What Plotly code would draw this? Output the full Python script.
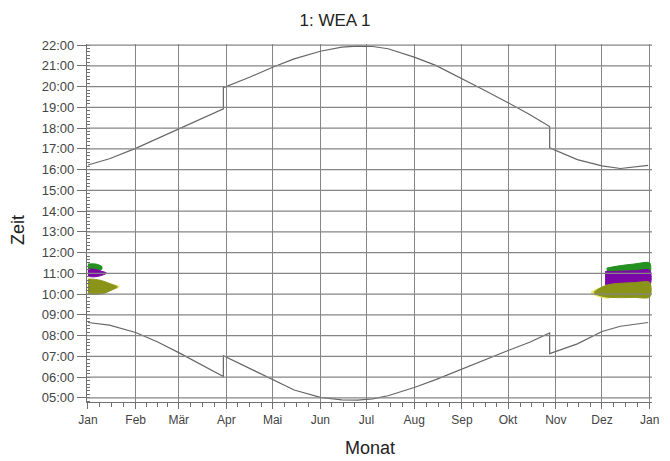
import plotly.graph_objects as go

# ---------------- data ----------------
months = ["Jan", "Feb", "Mär", "Apr", "Mai", "Jun", "Jul", "Aug", "Sep", "Okt", "Nov", "Dez", "Jan"]
month_start_days = [0, 31, 59, 90, 120, 151, 181, 212, 243, 273, 304, 334, 365]
hours = list(range(5, 23))
hour_labels = [f"{h:02d}:00" for h in hours]

# sun lines (day of year, Jan 1 = 0; hours local time, DST jumps duplicated)
sun_days = [0, 14, 31, 45, 59, 73, 88, 88, 105, 120, 134, 151, 165, 175, 185, 195,
            212, 226, 243, 257, 273, 287, 300, 300, 318, 334, 346, 364]
sunrise = [8.63, 8.50, 8.15, 7.70, 7.18, 6.63, 6.03, 7.03, 6.42, 5.85, 5.38, 5.02, 4.90, 4.89, 4.95, 5.10,
           5.50, 5.88, 6.40, 6.80, 7.28, 7.68, 8.13, 7.13, 7.60, 8.20, 8.45, 8.63]
sunset = [16.22, 16.52, 17.02, 17.48, 17.95, 18.42, 18.93, 19.95, 20.45, 20.93, 21.33, 21.70, 21.90, 21.95, 21.93, 21.82,
          21.42, 21.02, 20.40, 19.85, 19.22, 18.65, 18.07, 17.05, 16.48, 16.18, 16.05, 16.20]

# shadow periods (day, start hour, end hour) per receptor
green_jan_days = [0, 5, 9]
green_jan_lo = [11.05, 11.10, 11.20]
green_jan_hi = [11.45, 11.45, 11.33]
purple_jan_days = [0, 4, 8, 12]
purple_jan_lo = [10.85, 10.83, 10.88, 11.00]
purple_jan_hi = [11.20, 11.20, 11.12, 11.02]
yellow_jan_days = [0, 10, 20]
yellow_jan_lo = [10.05, 10.15, 10.33]
yellow_jan_hi = [10.60, 10.55, 10.37]
olive_jan_days = [0, 3, 7, 11, 15, 19]
olive_jan_lo = [10.02, 9.98, 9.99, 10.05, 10.18, 10.33]
olive_jan_hi = [10.72, 10.72, 10.68, 10.60, 10.48, 10.36]

green_dec_days = [337, 345, 355, 365]
green_dec_lo = [11.00, 11.00, 11.00, 11.00]
green_dec_hi = [11.25, 11.36, 11.45, 11.50]
purple_dec_days = [336, 345, 355, 365]
purple_dec_lo = [10.45, 10.43, 10.42, 10.42]
purple_dec_hi = [11.08, 11.10, 11.12, 11.15]
yellow_dec_days = [327, 332, 339]
yellow_dec_lo = [10.03, 9.88, 9.82]
yellow_dec_hi = [10.10, 10.28, 10.40]
olive_dec_days = [329, 333, 338, 346, 355, 365]
olive_dec_lo = [10.02, 9.92, 9.85, 9.83, 9.84, 9.86]
olive_dec_hi = [10.10, 10.30, 10.45, 10.52, 10.55, 10.56]

# ---------------- figure ----------------
FONT = "Liberation Sans, Arial, sans-serif"
GREEN = "#23901f"
PURPLE = "#7c06a8"
OLIVE = "#8a9418"
YELLOW = "#e6e66a"
GRID = "#858585"

# the page body has an 8px margin; size the figure so it fills the window
W, H = 661, 452
PL, PT, PR, PB = 79, 36, 10, 58

fig = go.Figure()


def band(days, lo, hi, color):
    fig.add_trace(go.Scatter(
        x=days + days[::-1], y=lo + hi[::-1],
        mode="lines", fill="toself", fillcolor=color,
        line=dict(color=color, width=1, shape="spline", smoothing=0.8),
        hoverinfo="skip", showlegend=False))


band(green_jan_days, green_jan_lo, green_jan_hi, GREEN)
band(purple_jan_days, purple_jan_lo, purple_jan_hi, PURPLE)
band(yellow_jan_days, yellow_jan_lo, yellow_jan_hi, YELLOW)
band(olive_jan_days, olive_jan_lo, olive_jan_hi, OLIVE)
band(green_dec_days, green_dec_lo, green_dec_hi, GREEN)
band(purple_dec_days, purple_dec_lo, purple_dec_hi, PURPLE)
band(yellow_dec_days, yellow_dec_lo, yellow_dec_hi, YELLOW)
band(olive_dec_days, olive_dec_lo, olive_dec_hi, OLIVE)

for series in (sunrise, sunset):
    fig.add_trace(go.Scatter(x=sun_days, y=series, mode="lines",
                             line=dict(color="#666666", width=1.2),
                             hoverinfo="skip", showlegend=False))

# quarter-month minor tick positions
minor_x = []
for a, b in zip(month_start_days[:-1], month_start_days[1:]):
    for k in (1, 2, 3):
        minor_x.append(a + (b - a) * k / 4)

# horizontal hour gridlines drawn above the shadow areas
for h in hours:
    fig.add_shape(type="line", xref="paper", x0=0, x1=1, yref="y", y0=h, y1=h,
                  line=dict(color=GRID, width=1.2), layer="above")

plot_w = W - PL - PR
plot_h = H - PT - PB

fig.update_layout(
    width=W, height=H,
    margin=dict(l=PL, r=PR, t=PT, b=PB, pad=0),
    paper_bgcolor="white", plot_bgcolor="white",
    font=dict(family=FONT, color="#444444"),
    title=dict(text="1: WEA 1", x=(335 - 8) / W, xref="container", xanchor="center",
               y=1 - 12 / H, yref="container", yanchor="middle",
               font=dict(size=17, color="#222222", family=FONT)),
    xaxis=dict(
        range=[-0.6, 366.5], tickmode="array", tickvals=month_start_days, ticktext=months,
        ticks="outside", ticklen=6, tickcolor="#707070", tickwidth=1,
        showgrid=True, gridcolor=GRID, gridwidth=1.2,
        showline=True, linecolor="#707070", linewidth=1.2, zeroline=False,
        tickfont=dict(size=12, color="#444444", family=FONT),
        minor=dict(tickmode="array", tickvals=minor_x, ticks="outside", ticklen=4,
                   tickcolor="#707070", showgrid=False),
    ),
    yaxis=dict(
        range=[4.8, 22.05], tickmode="array", tickvals=hours, ticktext=hour_labels,
        ticks="outside", ticklen=9, tickcolor="#707070", tickwidth=1,
        showgrid=False, showline=True, linecolor="#707070", linewidth=1.2, zeroline=False,
        tickfont=dict(size=13, color="#444444", family=FONT),
        minor=dict(tick0=0, dtick=1 / 6, ticks="inside", ticklen=3,
                   tickcolor="#707070", showgrid=False),
    ),
    annotations=[
        dict(text="Zeit", xref="paper", yref="paper", x=(17 - 87) / plot_w, y=0.48,
             textangle=-90, showarrow=False, xanchor="center", yanchor="middle",
             font=dict(size=18, color="#222222", family=FONT)),
        dict(text="Monat", xref="paper", yref="paper", x=0.5, y=-46 / plot_h,
             showarrow=False, xanchor="center", yanchor="middle",
             font=dict(size=18, color="#222222", family=FONT)),
    ],
)

fig.write_html("out.html")
